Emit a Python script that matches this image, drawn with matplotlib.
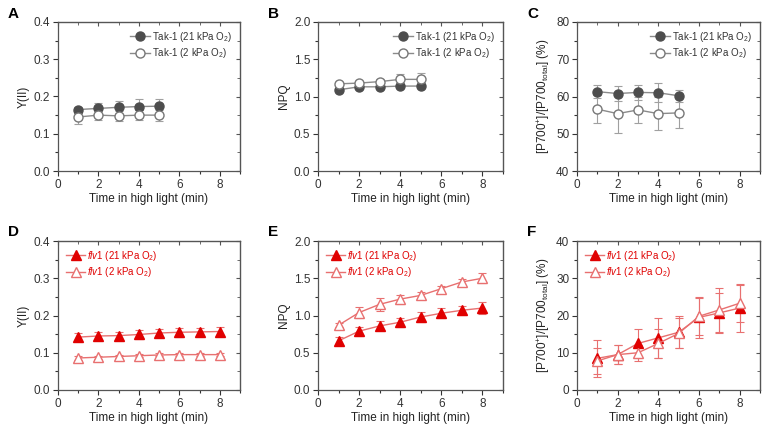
import numpy as np
import matplotlib.pyplot as plt
from matplotlib.ticker import MultipleLocator

plt.rcParams['font.family'] = ['Liberation Sans', 'DejaVu Sans']
plt.rcParams['mathtext.fontset'] = 'custom'
plt.rcParams['mathtext.rm'] = 'Liberation Sans'
plt.rcParams['mathtext.it'] = 'Liberation Sans:italic'

t_wt = [1, 2, 3, 4, 5]
t_mut = [1, 2, 3, 4, 5, 6, 7, 8]

# Tak-1
y2_wt21 = [0.165, 0.168, 0.171, 0.173, 0.174]
y2_wt21_err = [0.008, 0.014, 0.018, 0.021, 0.020]
y2_wt2 = [0.145, 0.150, 0.148, 0.150, 0.150]
y2_wt2_err = [0.020, 0.014, 0.013, 0.013, 0.015]

npq_wt21 = [1.09, 1.13, 1.13, 1.14, 1.14]
npq_wt21_err = [0.03, 0.02, 0.02, 0.02, 0.02]
npq_wt2 = [1.17, 1.18, 1.20, 1.23, 1.23]
npq_wt2_err = [0.02, 0.03, 0.03, 0.07, 0.08]

p700_wt21 = [61.3, 60.8, 61.1, 61.0, 60.2]
p700_wt21_err = [1.8, 2.0, 2.0, 2.5, 1.6]
p700_wt2 = [56.6, 55.4, 56.4, 55.4, 55.6]
p700_wt2_err = [3.8, 5.2, 3.5, 4.5, 4.0]

# flv1
y2_m21 = [0.142, 0.145, 0.146, 0.149, 0.153, 0.155, 0.156, 0.157]
y2_m21_err = [0.011, 0.011, 0.010, 0.012, 0.012, 0.012, 0.011, 0.011]
y2_m2 = [0.086, 0.088, 0.090, 0.092, 0.094, 0.095, 0.095, 0.095]
y2_m2_err = [0.005, 0.004, 0.004, 0.004, 0.004, 0.004, 0.004, 0.004]

npq_m21 = [0.66, 0.79, 0.86, 0.91, 0.98, 1.03, 1.07, 1.10]
npq_m21_err = [0.05, 0.06, 0.06, 0.06, 0.07, 0.07, 0.06, 0.08]
npq_m2 = [0.87, 1.04, 1.15, 1.22, 1.27, 1.36, 1.45, 1.50]
npq_m2_err = [0.03, 0.07, 0.09, 0.06, 0.04, 0.04, 0.04, 0.07]

p700_m21 = [8.5, 9.5, 12.5, 14.0, 15.5, 19.5, 20.7, 22.0]
p700_m21_err = [5.0, 2.5, 3.8, 5.3, 4.3, 5.5, 5.3, 6.5]
p700_m2 = [7.8, 9.5, 10.0, 12.5, 15.2, 19.8, 21.5, 23.3]
p700_m2_err = [3.5, 2.5, 2.2, 4.0, 4.0, 5.0, 6.0, 5.0]

fig = plt.figure(figsize=(7.67, 4.25), dpi=100)

lefts = [58, 318, 577]
widths = [182, 185, 183]
tops = [22, 241]
h = 149
W, H = 767, 425

gray_line = '#8a8a8a'
gray_fill = '#4d4d4d'
red = '#e00000'
red_light = '#e87070'

ylabels = ['Y(II)', 'NPQ', r'[P700$^{+}$]/[P700$_{\mathregular{total}}$] (%)']
ylims = [(0, 0.4, 0.1), (0, 2.0, 0.5), (40, 80, 10)]
ylims_b = [(0, 0.4, 0.1), (0, 2.0, 0.5), (0, 40, 10)]
letters = ['A', 'B', 'C', 'D', 'E', 'F']

wt_data = [(y2_wt21, y2_wt21_err, y2_wt2, y2_wt2_err),
           (npq_wt21, npq_wt21_err, npq_wt2, npq_wt2_err),
           (p700_wt21, p700_wt21_err, p700_wt2, p700_wt2_err)]
mut_data = [(y2_m21, y2_m21_err, y2_m2, y2_m2_err),
            (npq_m21, npq_m21_err, npq_m2, npq_m2_err),
            (p700_m21, p700_m21_err, p700_m2, p700_m2_err)]


def style_axes(ax, lim):
    lo, hi, step = lim
    ax.set_xlim(0, 9)
    ax.set_ylim(lo, hi)
    ax.xaxis.set_major_locator(MultipleLocator(2))
    ax.xaxis.set_minor_locator(MultipleLocator(1))
    ax.yaxis.set_major_locator(MultipleLocator(step))
    ax.yaxis.set_minor_locator(MultipleLocator(step / 2))
    if step < 1:
        ax.yaxis.set_major_formatter(plt.FormatStrFormatter('%.1f'))
    else:
        ax.yaxis.set_major_formatter(plt.FormatStrFormatter('%d'))
    ax.tick_params(which='both', labelsize=8.5, colors='#333333', width=0.8, pad=2)
    ax.tick_params(which='major', length=3.5)
    ax.tick_params(which='minor', length=2)
    for s in ax.spines.values():
        s.set_color('#555555')
        s.set_linewidth(0.9)
    ax.set_xlabel('Time in high light (min)', fontsize=8.5, labelpad=2, color='#222222')
    # inward ticks on top/right
    sec = ax.secondary_xaxis('top')
    sec.xaxis.set_major_locator(MultipleLocator(2))
    sec.xaxis.set_minor_locator(MultipleLocator(1))
    sec.tick_params(which='both', direction='in', labeltop=False, colors='#555555')
    sec.tick_params(which='major', length=3)
    sec.tick_params(which='minor', length=2)
    sec.set_xticklabels([])
    secy = ax.secondary_yaxis('right')
    secy.yaxis.set_major_locator(MultipleLocator(step))
    secy.yaxis.set_minor_locator(MultipleLocator(step / 2))
    secy.tick_params(which='both', direction='in', colors='#555555')
    secy.tick_params(which='major', length=3)
    secy.tick_params(which='minor', length=2)
    secy.set_yticklabels([])


def series(ax, x, y, err, lc, ec, marker, ms, mfc, mec, label):
    ax.errorbar(x, y, yerr=err, fmt='none', ecolor=ec, elinewidth=0.8,
                capsize=3, capthick=0.8, zorder=2)
    ax.plot(x, y, color=lc, lw=1, marker=marker, ms=ms, mfc=mfc, mec=mec,
            label=label, zorder=3)


for i in range(3):
    # top row: Tak-1
    ax = fig.add_axes([lefts[i] / W, 1 - (tops[0] + h) / H, widths[i] / W, h / H])
    a, ae, b, be = wt_data[i]
    series(ax, t_wt, a, ae, gray_line, '#a0a0a0', 'o', 6.5, gray_fill, gray_fill,
           r'Tak-1 (21 kPa O$_2$)')
    series(ax, t_wt, b, be, gray_line, '#a0a0a0', 'o', 6.5, 'white', '#777777',
           r'Tak-1 (2 kPa O$_2$)')
    style_axes(ax, ylims[i])
    ax.set_ylabel(ylabels[i], fontsize=8.5, labelpad=3, color='#222222')
    leg = ax.legend(loc='upper right', frameon=False, fontsize=7, handlelength=2.0,
                    handletextpad=0.2, borderaxespad=0.4, labelspacing=0.25)
    for t in leg.get_texts():
        t.set_color('#333333')
    fig.text((lefts[i] - 50) / W, 1 - 14 / H, letters[i], fontsize=11,
             fontweight='bold', va='center')

    # bottom row: flv1
    ax = fig.add_axes([lefts[i] / W, 1 - (tops[1] + h) / H, widths[i] / W, h / H])
    a, ae, b, be = mut_data[i]
    series(ax, t_mut, a, ae, red_light, red_light, '^', 7.5, red, red,
           r'$\mathit{flv1}$ (21 kPa O$_2$)')
    series(ax, t_mut, b, be, red_light, red_light, '^', 7.5, 'white', red_light,
           r'$\mathit{flv1}$ (2 kPa O$_2$)')
    style_axes(ax, ylims_b[i])
    ax.set_ylabel(ylabels[i], fontsize=8.5, labelpad=3, color='#222222')
    leg = ax.legend(loc='upper left', frameon=False, fontsize=7, handlelength=2.0,
                    handletextpad=0.2, borderaxespad=0.4, labelspacing=0.25)
    for t in leg.get_texts():
        t.set_color(red)
    fig.text((lefts[i] - 50) / W, 1 - 232 / H, letters[i + 3], fontsize=11,
             fontweight='bold', va='center')

plt.savefig('out.png', dpi=100)
